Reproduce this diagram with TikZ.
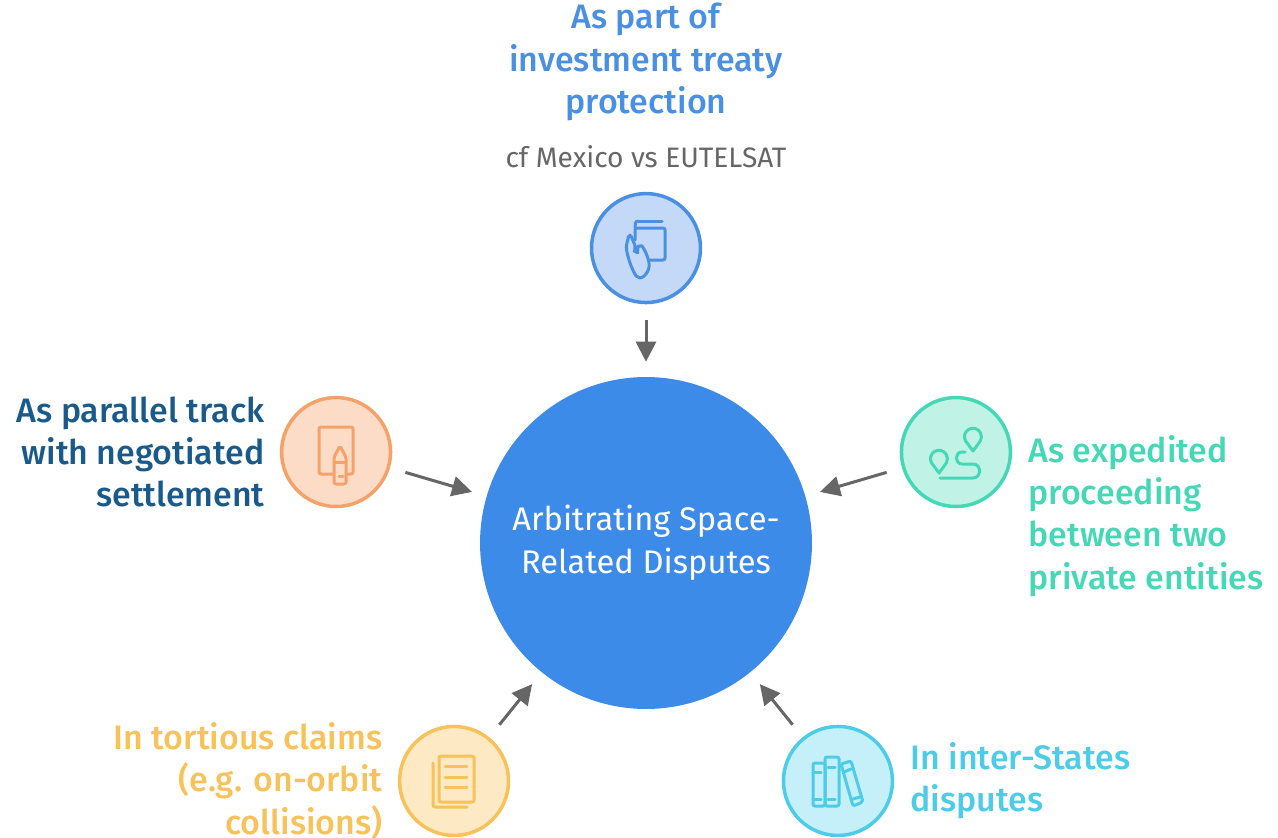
\documentclass[tikz,border=0pt]{standalone}
\usepackage{fontspec}
\setmainfont{Fira Sans}[BoldFont={Fira Sans Medium}]
\usetikzlibrary{positioning, arrows.meta}
\definecolor{hubBlue}{HTML}{3D8BE8}
\definecolor{topLine}{HTML}{4A90E2}
\definecolor{topFill}{HTML}{C3D9F7}
\definecolor{orangeLine}{HTML}{F5A26A}
\definecolor{orangeFill}{HTML}{FDDCC7}
\definecolor{tealLine}{HTML}{45D8B6}
\definecolor{tealFill}{HTML}{C0F3E5}
\definecolor{yellowLine}{HTML}{F8C25A}
\definecolor{yellowFill}{HTML}{FDE9C4}
\definecolor{cyanLine}{HTML}{4CCCE6}
\definecolor{cyanFill}{HTML}{C5F0FA}
\definecolor{navyText}{HTML}{1A5A8A}
\definecolor{arrowGray}{HTML}{666666}
\tikzstyle{iconCircle} = [circle, minimum size=2.18cm, line width=0.07cm]
\tikzstyle{myLabel} = [font=\fontsize{19.3}{24.1}\bfseries\selectfont, inner sep=0pt]
\tikzstyle{myArrow} = [-{Triangle[length=0.4cm, width=0.4cm]}, line width=0.06cm, draw=arrowGray, shorten <=0.32cm, shorten >=0.3cm]
\tikzstyle{glyph} = [line width=0.06cm, line cap=round, line join=round, rounded corners=0.04cm]

\begin{document}
\begin{tikzpicture}[x=0.02cm, y=-0.02cm]
    \useasboundingbox (0,0) rectangle (1278,838);
    \node[circle, fill=hubBlue, minimum size=6.64cm, text=white, align=center, font=\fontsize{18.6}{24.6}\selectfont] (hub) at (646,543) {Arbitrating Space-\\Related Disputes};

    \node[iconCircle, draw=topLine, fill=topFill, above of=hub, node distance=5.9cm] (topIcon){};
    \node[iconCircle, draw=orangeLine, fill=orangeFill, left of=hub, node distance=6.2cm, yshift=1.82cm] (orangeIcon){};
    \node[iconCircle, draw=tealLine, fill=tealFill, right of=hub, node distance=6.2cm, yshift=1.82cm] (tealIcon){};
    \node[iconCircle, draw=yellowLine, fill=yellowFill, below of=hub, node distance=4.76cm, xshift=-3.84cm] (yellowIcon){};
    \node[iconCircle, draw=cyanLine, fill=cyanFill, below of=hub, node distance=4.76cm, xshift=3.84cm] (cyanIcon){};

    \node[myLabel, text=topLine, align=center, above of=topIcon, node distance=3.72cm] (topText){As part of\\investment treaty\\protection};
    \node[text=arrowGray, inner sep=0pt, font=\fontsize{16}{19}\selectfont, above of=topIcon, node distance=1.82cm] (topNote){cf Mexico vs EUTELSAT};
    \node[myLabel, text=navyText, align=right, left=0.3cm of orangeIcon] (orangeText){As parallel track\\with negotiated\\settlement};
    \node[myLabel, text=tealLine, align=left, right=0.32cm of tealIcon, yshift=-1.28cm] (tealText){As expedited\\proceeding\\between two\\private entities};
    \node[myLabel, text=yellowLine, align=right, left=0.3cm of yellowIcon] (yellowText){In tortious claims\\(e.g. on-orbit\\collisions)};
    \node[myLabel, text=cyanLine, align=left, right=0.32cm of cyanIcon] (cyanText){In inter-States\\disputes};

    \draw[myArrow] (topIcon)--(hub);
    \draw[myArrow] (orangeIcon)--(hub);
    \draw[myArrow] (tealIcon)--(hub);
    \draw[myArrow] (yellowIcon)--(hub);
    \draw[myArrow] (cyanIcon)--(hub);

    % hand and tablet
    \draw[glyph, draw=topLine] (638,221)--(662,221);
    \draw[glyph, draw=topLine] (635,240)--(635,228)--(665,228)--(665,260)--(649,260);
    \draw[glyph, draw=topLine] (635,228) to[out=90, in=180] (638,221);
    \draw[glyph, draw=topLine] plot[smooth cycle, tension=0.6] coordinates {(627,243) (630,237) (634,243) (636,252) (640,246) (645,251) (649,265) (645,275) (638,277) (632,268) (627,252)};
    % document and pencil
    \draw[glyph, draw=orangeLine] (333,474)--(319,474)--(319,427)--(353,427)--(353,474)--(347,474);
    \draw[glyph, draw=orangeLine, fill=orangeFill] (334,457)--(340,446)--(346,457)--(346,484)--(334,484)--cycle;
    \draw[glyph, draw=orangeLine] (334,462)--(346,462);
    \draw[glyph, draw=orangeLine] (339,476)--(343,476);
    % two pins and a route
    \draw[glyph, draw=tealLine, rounded corners=0pt] (973,451)--(965.6,441) arc[start angle=150, end angle=390, radius=8.5]--cycle;
    \draw[glyph, draw=tealLine, rounded corners=0pt] (939,473)--(931.6,463) arc[start angle=150, end angle=390, radius=8.5]--cycle;
    \draw[glyph, draw=tealLine, rounded corners=0pt] (965,452)--(962,452) to[out=180, in=180, looseness=1.6] (962,464)--(973,464) to[out=0, in=0, looseness=1.6] (973,478)--(940,478);
    % stacked pages
    \draw[glyph, draw=yellowLine] (439,756) rectangle (474,802);
    \draw[glyph, draw=yellowLine] (445,766)--(467,766);
    \draw[glyph, draw=yellowLine] (445,777)--(467,777);
    \draw[glyph, draw=yellowLine] (445,787)--(467,787);
    \draw[glyph, draw=yellowLine] (433,763)--(433,807)--(467,807);
    % books
    \draw[glyph, draw=cyanLine] (813,763) rectangle (825,806);
    \draw[glyph, draw=cyanLine] (825,757) rectangle (839,806);
    \draw[glyph, draw=cyanLine] (841,764)--(851,761)--(863,802)--(853,806)--cycle;
    \draw[glyph, draw=cyanLine] (813,772)--(821,772);
    \draw[glyph, draw=cyanLine] (813,799)--(821,799);
    \draw[glyph, draw=cyanLine] (828,767)--(835,767);
    \draw[glyph, draw=cyanLine] (828,799)--(835,799);
    \draw[glyph, draw=cyanLine] (844,772)--(851,769);
    \draw[glyph, draw=cyanLine] (853,799)--(860,797);
\end{tikzpicture}
\end{document}
